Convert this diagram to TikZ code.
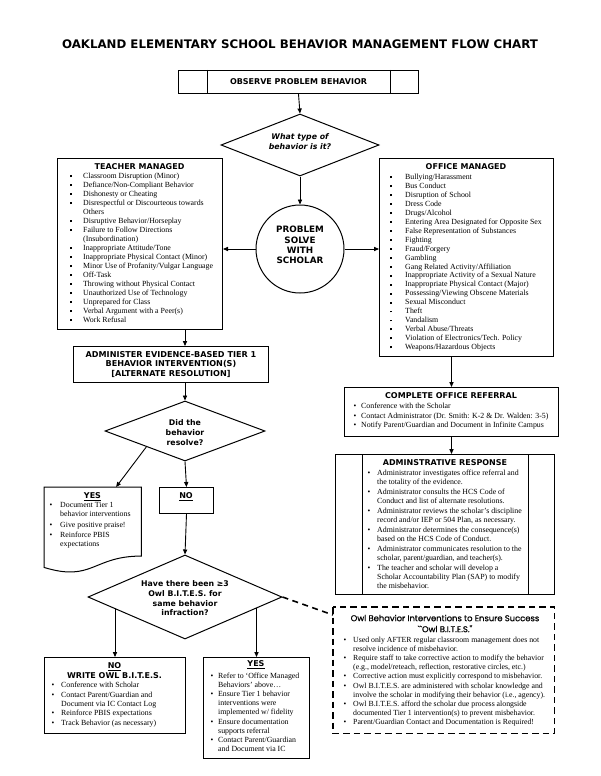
\documentclass[tikz,border=0pt]{standalone}
\usepackage{fontspec}
\setmainfont{Liberation Serif}
\newfontfamily\hd{DejaVu Sans}
\newfontfamily\owlf{Poppins}[FakeBold=0.8]
\usetikzlibrary{arrows.meta,shapes.geometric,calc}
\newcommand{\sqb}{\raisebox{1.3pt}{\rule{1.9pt}{1.9pt}}}
\newcommand{\rb}{\textbullet}
\tikzset{
  boxline/.style={draw, line width=1pt},
  box/.style={boxline, inner sep=0pt, anchor=north west, align=center},
  dmd/.style={draw, diamond, line width=1pt, inner sep=0pt},
  arr/.style={-{Triangle[length=5pt,width=4.2pt]}, line width=0.9pt},
  hdg/.style={font=\hd\bfseries\fontsize{8}{9.5}\selectfont, inner sep=0pt, align=center},
  lst/.style={anchor=base west, inner sep=0pt},
  owldash/.style={line width=1.6pt, dash pattern=on 6.5pt off 4pt},
}
\begin{document}
\begin{tikzpicture}[x=1pt,y=-1pt]
\useasboundingbox[fill=white] (0,0) rectangle (600,776);

% title
\node[font=\hd\bfseries\fontsize{11.8}{14}\selectfont, inner sep=0pt] (title) at (300,44) {OAKLAND ELEMENTARY SCHOOL BEHAVIOR MANAGEMENT FLOW CHART};

% observe
\node[box, minimum width=240, minimum height=23, hdg] (obs) at (178,70) {OBSERVE PROBLEM BEHAVIOR};
\draw[line width=0.8pt] ($(obs.north west)+(29,0)$) -- ($(obs.south west)+(29,0)$);
\draw[line width=0.8pt] ($(obs.north east)+(-29,0)$) -- ($(obs.south east)+(-29,0)$);

% diamond 1
\node[dmd, minimum width=158, minimum height=62] (d1) at (300,145) {};
\node[font=\hd\bfseries\itshape\fontsize{7.8}{10}\selectfont, inner sep=0pt, align=center] (d1t) at (300,142) {What type of\\behavior is it?};

% circle
\node[draw, circle, line width=1pt, minimum size=88, inner sep=0pt] (circ) at (300,249) {};
\node[font=\hd\bfseries\fontsize{8.8}{10.3}\selectfont, inner sep=0pt, align=center] (circt) at (300,245) {PROBLEM\\SOLVE\\WITH\\SCHOLAR};

% teacher box
\node[box, minimum width=165, minimum height=171] (teach) at (57,158) {};
\node[hdg] (teachh) at (139.5,167) {TEACHER MANAGED};
\node[lst, font=\fontsize{7.85}{9}\selectfont] (teachl) at (69.5,178.5) {\begin{tabular}[t]{@{}p{13.5pt}@{}l@{}}
\sqb & Classroom Disruption (Minor)\\
\sqb & Defiance/Non-Compliant Behavior\\
\sqb & Dishonesty or Cheating\\
\sqb & Disrespectful or Discourteous towards\\
 & Others\\
\sqb & Disruptive Behavior/Horseplay\\
\sqb & Failure to Follow Directions\\
 & (Insubordination)\\
\sqb & Inappropriate Attitude/Tone\\
\sqb & Inappropriate Physical Contact (Minor)\\
\sqb & Minor Use of Profanity/Vulgar Language\\
\sqb & Off-Task\\
\sqb & Throwing without Physical Contact\\
\sqb & Unauthorized Use of Technology\\
\sqb & Unprepared for Class\\
\sqb & Verbal Argument with a Peer(s)\\
\sqb & Work Refusal
\end{tabular}};

% office box
\node[box, minimum width=174, minimum height=198] (off) at (379,158) {};
\node[hdg] (offh) at (466,167) {OFFICE MANAGED};
\node[lst, font=\fontsize{7.85}{8.95}\selectfont] (offl) at (390,179.5) {\begin{tabular}[t]{@{}p{15pt}@{}l@{}}
\sqb & Bullying/Harassment\\
\sqb & Bus Conduct\\
\sqb & Disruption of School\\
\sqb & Dress Code\\
\sqb & Drugs/Alcohol\\
\sqb & Entering Area Designated for Opposite Sex\\
\sqb & False Representation of Substances\\
\sqb & Fighting\\
\sqb & Fraud/Forgery\\
\sqb & Gambling\\
\sqb & Gang Related Activity/Affiliation\\
\sqb & Inappropriate Activity of a Sexual Nature\\
\sqb & Inappropriate Physical Contact (Major)\\
\sqb & Possessing/Viewing Obscene Materials\\
\sqb & Sexual Misconduct\\
\sqb & Theft\\
\sqb & Vandalism\\
\sqb & Verbal Abuse/Threats\\
\sqb & Violation of Electronics/Tech. Policy\\
\sqb & Weapons/Hazardous Objects
\end{tabular}};

% referral
\node[box, minimum width=214, minimum height=49] (ref) at (344,387) {};
\node[hdg] (refh) at (451,396) {COMPLETE OFFICE REFERRAL};
\node[lst, font=\fontsize{7.85}{9.5}\selectfont] (refl) at (353.5,408.5) {\begin{tabular}[t]{@{}p{7.5pt}@{}l@{}}
\rb & Conference with the Scholar\\
\rb & Contact Administrator (Dr. Smith: K-2 \& Dr. Walden: 3-5)\\
\rb & Notify Parent/Guardian and Document in Infinite Campus
\end{tabular}};

% admin response
\node[box, minimum width=219, minimum height=140] (adm) at (335,454) {};
\draw[line width=0.8pt] ($(adm.north west)+(27,0)$) -- ($(adm.south west)+(27,0)$);
\draw[line width=0.8pt] ($(adm.north east)+(-27,0)$) -- ($(adm.south east)+(-27,0)$);
\node[hdg] (admh) at (445,463) {ADMINSTRATIVE RESPONSE};
\node[lst, font=\fontsize{7.85}{9}\selectfont] (adml) at (367.5,475.5) {\begin{tabular}[t]{@{}p{9.5pt}@{}l@{}}
\rb & Administrator investigates office referral and\\
 & the totality of the evidence.\\[1pt]
\rb & Administrator consults the HCS Code of\\
 & Conduct and list of alternate resolutions.\\[1pt]
\rb & Administrator reviews the scholar's discipline\\
 & record and/or IEP or 504 Plan, as necessary.\\[1pt]
\rb & Administrator determines the consequence(s)\\
 & based on the HCS Code of Conduct.\\[1pt]
\rb & Administrator communicates resolution to the\\
 & scholar, parent/guardian, and teacher(s).\\[1pt]
\rb & The teacher and scholar will develop a\\
 & Scholar Accountability Plan (SAP) to modify\\
 & the misbehavior.
\end{tabular}};

% owl bites
\node[anchor=north west, inner sep=0pt, minimum width=221, minimum height=126] (owl) at (333,607) {};
\draw[owldash] (owl.north west) rectangle (owl.south east);
\node[font=\owlf\fontsize{8.4}{11}\selectfont, inner sep=0pt, align=center] (owlh) at (445,623.5) {Owl Behavior Interventions to Ensure Success\\``Owl B.I.T.E.S.''};
\node[lst, font=\fontsize{7.8}{9.1}\selectfont] (owll) at (343.5,642.5) {\begin{tabular}[t]{@{}p{9.5pt}@{}l@{}}
\rb & Used only AFTER regular classroom management does not\\
 & resolve incidence of misbehavior.\\
\rb & Require staff to take corrective action to modify the behavior\\
 & (e.g., model/reteach, reflection, restorative circles, etc.)\\
\rb & Corrective action must explicitly correspond to misbehavior.\\
\rb & Owl B.I.T.E.S. are administered with scholar knowledge and\\
 & involve the scholar in modifying their behavior (i.e., agency).\\
\rb & Owl B.I.T.E.S. afford the scholar due process alongside\\
 & documented Tier 1 intervention(s) to prevent misbehavior.\\
\rb & Parent/Guardian Contact and Documentation is Required!
\end{tabular}};

% tier 1
\node[box, minimum width=195, minimum height=36, font=\hd\bfseries\fontsize{8.1}{9.6}\selectfont] (tier) at (73,346) {ADMINISTER EVIDENCE-BASED TIER 1\\BEHAVIOR INTERVENTION(S)\\{[}ALTERNATE RESOLUTION{]}};

% diamond 2
\node[dmd, minimum width=160, minimum height=60] (d2) at (185,431) {};
\node[font=\hd\bfseries\fontsize{7.8}{10}\selectfont, inner sep=0pt, align=center] (d2t) at (185,433) {Did the\\behavior\\resolve?};

% yes document box
\node[anchor=north west, inner sep=0pt, minimum width=97, minimum height=85.7] (yes) at (44,487) {};
\draw[boxline] (yes.north west) -- (yes.north east) -- ($(yes.north east)!0.802!(yes.south east)$)
  .. controls ($(yes.north)!0.802!(yes.south)$) and ($(yes.north)!1.107!(yes.south)$) .. ($(yes.north west)!0.934!(yes.south west)$) -- cycle;
\node[hdg] (yesh) at (92.5,497) {\underline{YES}};
\node[lst, font=\fontsize{7.85}{9}\selectfont] (yesl) at (49.5,507.5) {\begin{tabular}[t]{@{}p{10.5pt}@{}l@{}}
\rb & Document Tier 1\\
 & behavior interventions\\[1.5pt]
\rb & Give positive praise!\\[1.5pt]
\rb & Reinforce PBIS\\
 & expectations
\end{tabular}};

% no box
\node[box, minimum width=54, minimum height=26] (no) at (159,487) {};
\node[hdg] (noh) at (186,497) {\underline{NO}};

% diamond 3
\node[dmd, minimum width=194, minimum height=84] (d3) at (185,597) {};
\node[font=\hd\bfseries\fontsize{7.8}{9.7}\selectfont, inner sep=0pt, align=center] (d3t) at (185,598.5) {Have there been ≥3\\Owl B.I.T.E.S. for\\same behavior\\infraction?};

% no write box
\node[box, minimum width=141, minimum height=76] (nw) at (44,657) {};
\node[hdg] (nwh) at (114.5,670.5) {\underline{NO}\\WRITE OWL B.I.T.E.S.};
\node[lst, font=\fontsize{7.85}{9}\selectfont] (nwl) at (51.5,687.5) {\begin{tabular}[t]{@{}p{9.5pt}@{}l@{}}
\rb & Conference with Scholar\\[0.5pt]
\rb & Contact Parent/Guardian and\\
 & Document via IC Contact Log\\[0.5pt]
\rb & Reinforce PBIS expectations\\[0.5pt]
\rb & Track Behavior (as necessary)
\end{tabular}};

% yes refer box
\node[box, minimum width=106, minimum height=101] (yr) at (203,657) {};
\node[hdg] (yrh) at (256,665) {\underline{YES}};
\node[lst, font=\fontsize{7.85}{9.1}\selectfont] (yrl) at (210.5,678.5) {\begin{tabular}[t]{@{}p{7.5pt}@{}l@{}}
\rb & Refer to `Office Managed\\
 & Behaviors' above\ldots\\
\rb & Ensure Tier 1 behavior\\
 & interventions were\\
 & implemented w/ fidelity\\
\rb & Ensure documentation\\
 & supports referral\\
\rb & Contact Parent/Guardian\\
 & and Document via IC
\end{tabular}};

% connectors
\draw[arr] (obs.south) -- (d1.north);
\draw[arr] (d1.south) -- (circ.north);
\draw[arr] (circ.west) -- (circ.west -| teach.east);
\draw[arr] (circ.east) -- (circ.east -| off.west);
\draw[arr] (teach.south -| d2.north) -- (tier.north -| d2.north);
\draw[arr] (tier.south -| d2.north) -- (d2.north);
\draw[arr] (off.south -| ref.north) -- (ref.north);
\draw[arr] (ref.south) -- (ref.south |- adm.north);
\draw[arr] ($(d2.west)!0.52!(d2.south)$) -- ($(yes.north west)!0.74!(yes.north east)$);
\draw[arr] (d2.south) -- (no.north);
\draw[arr] (no.south) -- (d3.north);
\coordinate (d3l) at ($(d3.west)!0.28!(d3.south)$);
\coordinate (d3r) at ($(d3.east)!0.26!(d3.south)$);
\draw[arr] (d3l -| nw.north) -- (nw.north);
\draw[arr] (d3r -| yr.north) -- (yr.north);
\draw[line width=1.6pt, dash pattern=on 6pt off 4.5pt] (d3.east) -- ($(owl.north west)!0.063!(owl.south west)$);
\end{tikzpicture}
\end{document}
